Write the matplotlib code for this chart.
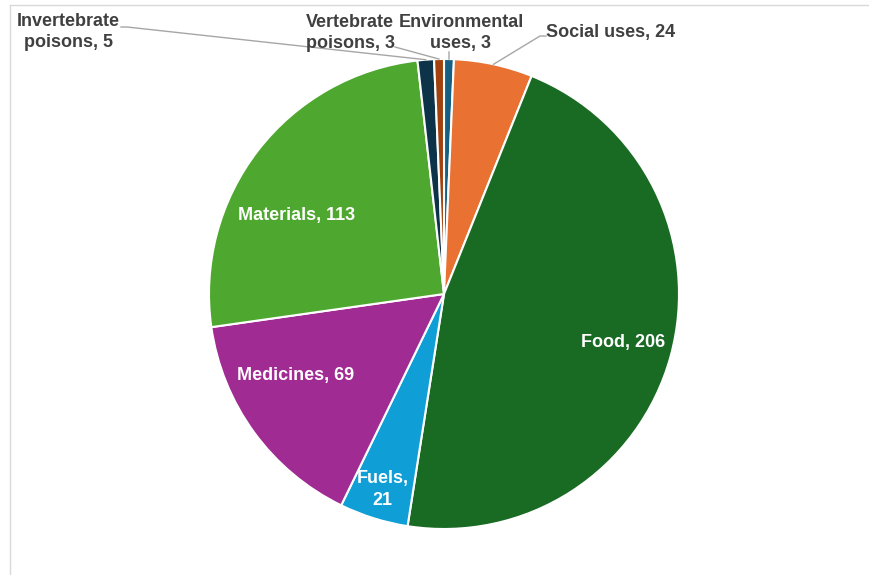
import numpy as np
import matplotlib.pyplot as plt
from matplotlib.lines import Line2D

plt.rcParams['font.family'] = ['Liberation Sans', 'DejaVu Sans']

# uses of species, number per category (clockwise from 12 o'clock)
categories = ["Environmental uses", "Social uses", "Food", "Fuels", "Medicines",
              "Materials", "Invertebrate poisons", "Vertebrate poisons"]
counts = [3, 24, 206, 21, 69, 113, 5, 3]
colors = ["#156082", "#E97132", "#196B24", "#0F9ED5", "#A02B93",
          "#4EA72E", "#0D3349", "#A0410E"]
label_text = ["Environmental\nuses, 3", "Social uses, 24", "Food, 206", "Fuels,\n21",
              "Medicines, 69", "Materials, 113", "Invertebrate\npoisons, 5",
              "Vertebrate\npoisons, 3"]

W, H = 869, 575
fig = plt.figure(figsize=(W / 100, H / 100), dpi=100)
ax = fig.add_axes([0, 0, 1, 1])

cx, cy, R = 444, H - 294, 235
wedges, _ = ax.pie(counts, colors=colors, startangle=90, counterclock=False,
                   center=(cx, cy), radius=R,
                   wedgeprops=dict(edgecolor="white", linewidth=1.5))
ax.set_xlim(0, W)
ax.set_ylim(0, H)
ax.set_aspect("auto")
ax.axis("off")


def mid_point(w, frac, shift=0.0):
    a = np.deg2rad((w.theta1 + w.theta2) / 2 + shift)
    return cx + frac * R * np.cos(a), cy + frac * R * np.sin(a)


FS = 13
LS = 1.38

# labels inside the big slices: (radius fraction, angular nudge)
inside = {2: (0.79, 0.3), 3: (0.87, 0.0), 4: (0.72, -7.3), 5: (0.71, 9.8)}
for i, (frac, shift) in inside.items():
    x, y = mid_point(wedges[i], frac, shift)
    ax.text(x, y, label_text[i], color="white", fontsize=FS, fontweight="bold",
            ha="center", va="center", multialignment="center", linespacing=LS)

grey = "#404040"
lead = "#A6A6A6"

# small slices get callouts above the pie
callouts = {
    1: dict(text=(546, H - 32), ha="left", path=[(540, H - 36), (546, H - 36)]),
    0: dict(text=(461, H - 33), ha="center", path=[(449, H - 52)]),
    7: dict(text=(350, H - 33), ha="center", path=[(395, H - 47)]),
    6: dict(text=(68, H - 32), ha="center", path=[(127, H - 27), (121, H - 27)]),
}
for i, c in callouts.items():
    ax.text(c["text"][0], c["text"][1], label_text[i], color=grey, fontsize=FS,
            fontweight="bold", ha=c["ha"], va="center", multialignment="center",
            linespacing=LS)
    x0, y0 = mid_point(wedges[i], 1.0)
    pts = [(x0, y0)] + c["path"]
    ax.plot([p[0] for p in pts], [p[1] for p in pts], color=lead, lw=1)

# chart frame edges
fig.add_artist(Line2D([10 / W, 1], [1 - 5 / H, 1 - 5 / H], color="#D9D9D9", lw=1))
fig.add_artist(Line2D([10 / W, 10 / W], [0, 1 - 5 / H], color="#D9D9D9", lw=1))

fig.savefig("out.png", dpi=100, facecolor="white")
